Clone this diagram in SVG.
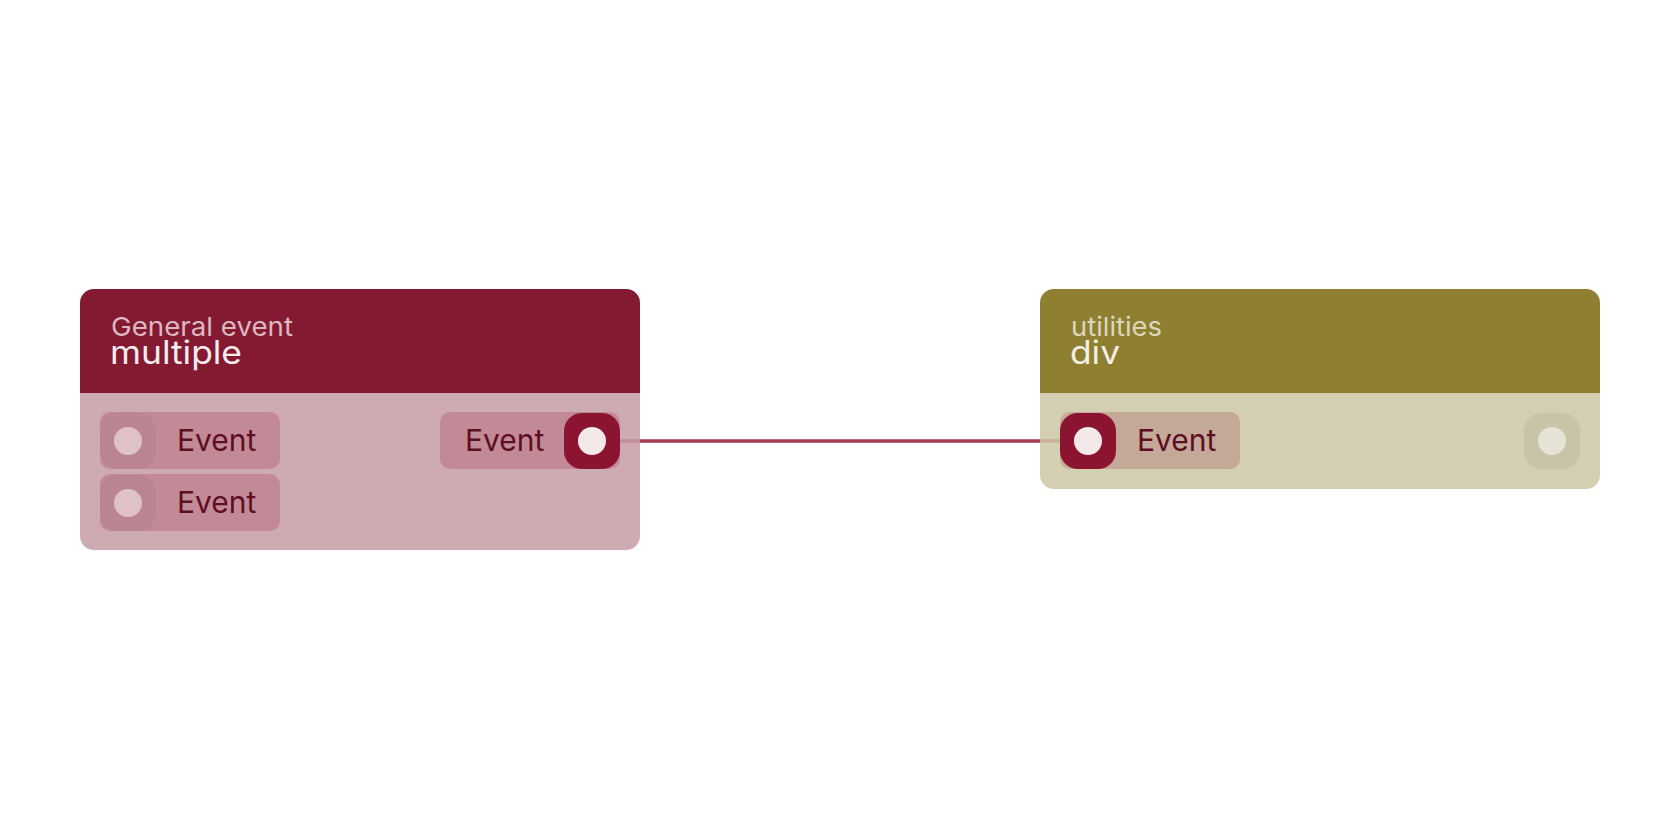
<svg xmlns="http://www.w3.org/2000/svg" width="1680" height="840" viewBox="0 0 1680 840">
<style>
.sub{font-family:Inter,"Noto Sans",sans-serif;font-size:26px;}
.title{font-family:Inter,"Noto Sans",sans-serif;font-size:32px;}
.lbl{font-family:Inter,"Noto Sans",sans-serif;font-size:30px;fill:#5E0E22;}
.wire{stroke:#A63D58;stroke-width:3.5;fill:none;}
</style>
<rect width="1680" height="840" fill="#ffffff"/>
<g id="connectors">
<path class="wire" d="M592 441 H1088"/>
</g>
<g id="node-multiple">
<path d="M80 393 V303 a14 14 0 0 1 14 -14 H626 a14 14 0 0 1 14 14 V393 Z" fill="#831A32"/>
<path d="M80 393 H640 V536 a14 14 0 0 1 -14 14 H94 a14 14 0 0 1 -14 -14 Z" fill="#C69CA6" fill-opacity="0.85"/>
<text class="sub" x="111" y="335.5" fill="#DCB8C0" textLength="182" lengthAdjust="spacingAndGlyphs">General event</text>
<text class="title" x="110" y="364" fill="#F5ECEE" textLength="132" lengthAdjust="spacingAndGlyphs">multiple</text>
<rect x="100" y="412" width="180" height="57" rx="10" fill="#C28A97"/>
<rect x="100" y="413" width="56" height="56" rx="18" fill="#BA8591"/>
<circle cx="128" cy="441" r="14" fill="#DEC2C8"/>
<text class="lbl" x="177" y="451">Event</text>
<rect x="100" y="474" width="180" height="57" rx="10" fill="#C28A97"/>
<rect x="100" y="475" width="56" height="56" rx="18" fill="#BA8591"/>
<circle cx="128" cy="503" r="14" fill="#DEC2C8"/>
<text class="lbl" x="177" y="513">Event</text>
<rect x="440" y="412" width="180" height="57" rx="10" fill="#C28A97"/>
<rect x="564" y="413" width="56" height="56" rx="18" fill="#8B1530"/>
<circle cx="592" cy="441" r="14" fill="#F4E8EB"/>
<text class="lbl" x="465" y="451">Event</text>
</g>
<g id="node-div">
<path d="M1040 393 V303 a14 14 0 0 1 14 -14 H1586 a14 14 0 0 1 14 14 V393 Z" fill="#8E7F31"/>
<path d="M1040 393 H1600 V475 a14 14 0 0 1 -14 14 H1054 a14 14 0 0 1 -14 -14 Z" fill="#CCC5A4" fill-opacity="0.85"/>
<text class="sub" x="1071" y="335.5" fill="#DCD6BC" textLength="91" lengthAdjust="spacingAndGlyphs">utilities</text>
<text class="title" x="1070" y="364" fill="#F3F0E6" textLength="50" lengthAdjust="spacingAndGlyphs">div</text>
<rect x="1060" y="412" width="180" height="57" rx="10" fill="#C4A898"/>
<rect x="1060" y="413" width="56" height="56" rx="18" fill="#8B1530"/>
<circle cx="1088" cy="441" r="14" fill="#F4E8EB"/>
<text class="lbl" x="1137" y="451">Event</text>
<rect x="1524" y="413" width="56" height="56" rx="18" fill="#C9C3A7"/>
<circle cx="1552" cy="441" r="14" fill="#E5E2D6"/>
</g>
</svg>
